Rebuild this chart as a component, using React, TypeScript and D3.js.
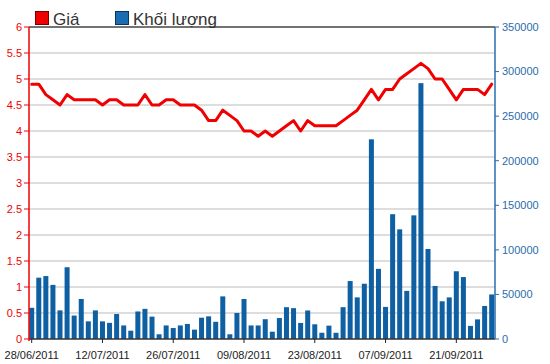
import React from 'react'
import * as d3 from 'd3'

const dates = [
  '28/06/2011', '29/06/2011', '30/06/2011',
  '01/07/2011', '04/07/2011', '05/07/2011', '06/07/2011', '07/07/2011', '08/07/2011', '11/07/2011',
  '12/07/2011', '13/07/2011', '14/07/2011', '15/07/2011', '18/07/2011', '19/07/2011', '20/07/2011',
  '21/07/2011', '22/07/2011', '25/07/2011', '26/07/2011', '27/07/2011', '28/07/2011', '29/07/2011',
  '01/08/2011', '02/08/2011', '03/08/2011', '04/08/2011', '05/08/2011', '08/08/2011', '09/08/2011',
  '10/08/2011', '11/08/2011', '12/08/2011', '15/08/2011', '16/08/2011', '17/08/2011', '18/08/2011',
  '19/08/2011', '22/08/2011', '23/08/2011', '24/08/2011', '25/08/2011', '26/08/2011', '29/08/2011',
  '30/08/2011', '31/08/2011', '01/09/2011', '05/09/2011', '06/09/2011', '07/09/2011', '08/09/2011',
  '09/09/2011', '12/09/2011', '13/09/2011', '14/09/2011', '15/09/2011', '16/09/2011', '19/09/2011',
  '20/09/2011', '21/09/2011', '22/09/2011', '23/09/2011', '26/09/2011', '27/09/2011', '28/09/2011',
]

const price = [
  4.9, 4.9, 4.7, 4.6, 4.5, 4.7, 4.6, 4.6, 4.6, 4.6,
  4.5, 4.6, 4.6, 4.5, 4.5, 4.5, 4.7, 4.5, 4.5, 4.6,
  4.6, 4.5, 4.5, 4.5, 4.4, 4.2, 4.2, 4.4, 4.3, 4.2,
  4.0, 4.0, 3.9, 4.0, 3.9, 4.0, 4.1, 4.2, 4.0, 4.2,
  4.1, 4.1, 4.1, 4.1, 4.2, 4.3, 4.4, 4.6, 4.8, 4.6,
  4.8, 4.8, 5.0, 5.1, 5.2, 5.3, 5.2, 5.0, 5.0, 4.8,
  4.6, 4.8, 4.8, 4.8, 4.7, 4.9,
]

const volume = [
  35000, 68800, 70600, 60700, 32100, 80500, 26300, 44900, 19800, 32100,
  19800, 18100, 28000, 15200, 9300, 30900, 33800, 25100, 5300, 15200,
  12300, 15200, 16900, 10500, 23900, 25400, 19300, 47800, 5300, 29200,
  44900, 15200, 15200, 22200, 8200, 23500, 35700, 34600, 18000, 32000,
  16500, 7000, 15000, 7000, 35700, 65000, 46700, 62000, 224000, 78700,
  36000, 140000, 123000, 54000, 138700, 287000, 101000, 59500, 42300, 46700,
  76000, 69500, 14700, 22000, 37000, 50000,
]

const legendLabels = ['Giá', 'Khối lượng']

const W = 550
const H = 364
const left = 29
const right = 495
const top = 27
const bottom = 339

const red = '#f00000'
const blue = '#0f5fa3'
const blueText = '#2a6cae'
const font = '"Liberation Sans", Arial, sans-serif'

export default function App() {
  const x = d3.scalePoint<string>().domain(dates).range([31.7, 491.7])
  const yLeft = d3.scaleLinear().domain([0, 6]).range([bottom, top])
  const yRight = d3.scaleLinear().domain([0, 350000]).range([bottom, top])

  const leftTicks = yLeft.ticks(12)
  const rightTicks = yRight.ticks(7)
  const xTicks = dates.filter((_, i) => i % 10 === 0)

  const line = d3.line<number>()
    .x((_, i) => x(dates[i]) as number)
    .y(d => yLeft(d))

  const barW = 5

  return (
    <svg width={W} height={H} style={{ position: 'absolute', left: 0, top: 0, background: '#fff' }} fontFamily={font}>
      {/* gridlines */}
      {leftTicks.filter(t => t > 0 && t < 6).map(t => (
        <line key={'g' + t} x1={left} x2={right} y1={yLeft(t)} y2={yLeft(t)} stroke="#d2d2d2" strokeWidth={1.5} />
      ))}

      {/* volume bars */}
      {volume.map((v, i) => (
        <rect key={'b' + i} x={(x(dates[i]) as number) - barW / 2} y={yRight(v)} width={barW} height={bottom - yRight(v)} fill={blue} />
      ))}

      {/* price line */}
      <path d={line(price) || ''} fill="none" stroke={red} strokeWidth={3} strokeLinejoin="round" strokeLinecap="round" />

      {/* frame */}
      <line x1={left} x2={right} y1={top} y2={top} stroke="#444" strokeWidth={1.5} />
      <line x1={left} x2={right} y1={bottom} y2={bottom} stroke="#333" strokeWidth={1.5} />
      <line x1={left} x2={left} y1={top} y2={bottom + 2} stroke={red} strokeWidth={1.5} />
      <line x1={right} x2={right} y1={top} y2={bottom} stroke={blueText} strokeWidth={1.5} />

      {/* left axis */}
      {leftTicks.map(t => (
        <g key={'l' + t}>
          <line x1={left - 5} x2={left} y1={yLeft(t)} y2={yLeft(t)} stroke={red} strokeWidth={1} />
          <text x={left - 7} y={yLeft(t)} dy="0.35em" textAnchor="end" fontSize={11} fill={red}>{String(t)}</text>
        </g>
      ))}

      {/* right axis */}
      {rightTicks.map(t => (
        <g key={'r' + t}>
          <line x1={right} x2={right + 4} y1={yRight(t)} y2={yRight(t)} stroke={blueText} strokeWidth={1} />
          <text x={right + 7} y={yRight(t)} dy="0.35em" textAnchor="start" fontSize={11} fill={blueText}>{String(t)}</text>
        </g>
      ))}

      {/* x axis */}
      {xTicks.map(d => (
        <g key={'x' + d}>
          <line x1={x(d) as number} x2={x(d) as number} y1={bottom} y2={bottom + 4} stroke="#222" strokeWidth={1} />
          <text x={x(d) as number} y={359} textAnchor="middle" fontSize={11} fill="#222">{d}</text>
        </g>
      ))}

      {/* legend */}
      <rect x={35.5} y={11.5} width={13} height={13} fill={red} stroke="#7a0000" strokeWidth={1} />
      <text x={53} y={25} fontSize={17} fill="#333">{legendLabels[0]}</text>
      <rect x={115.5} y={11.5} width={13} height={13} fill="#1c6cb0" stroke="#0a355e" strokeWidth={1} />
      <text x={133} y={25} fontSize={17} fill="#333">{legendLabels[1]}</text>
    </svg>
  )
}
